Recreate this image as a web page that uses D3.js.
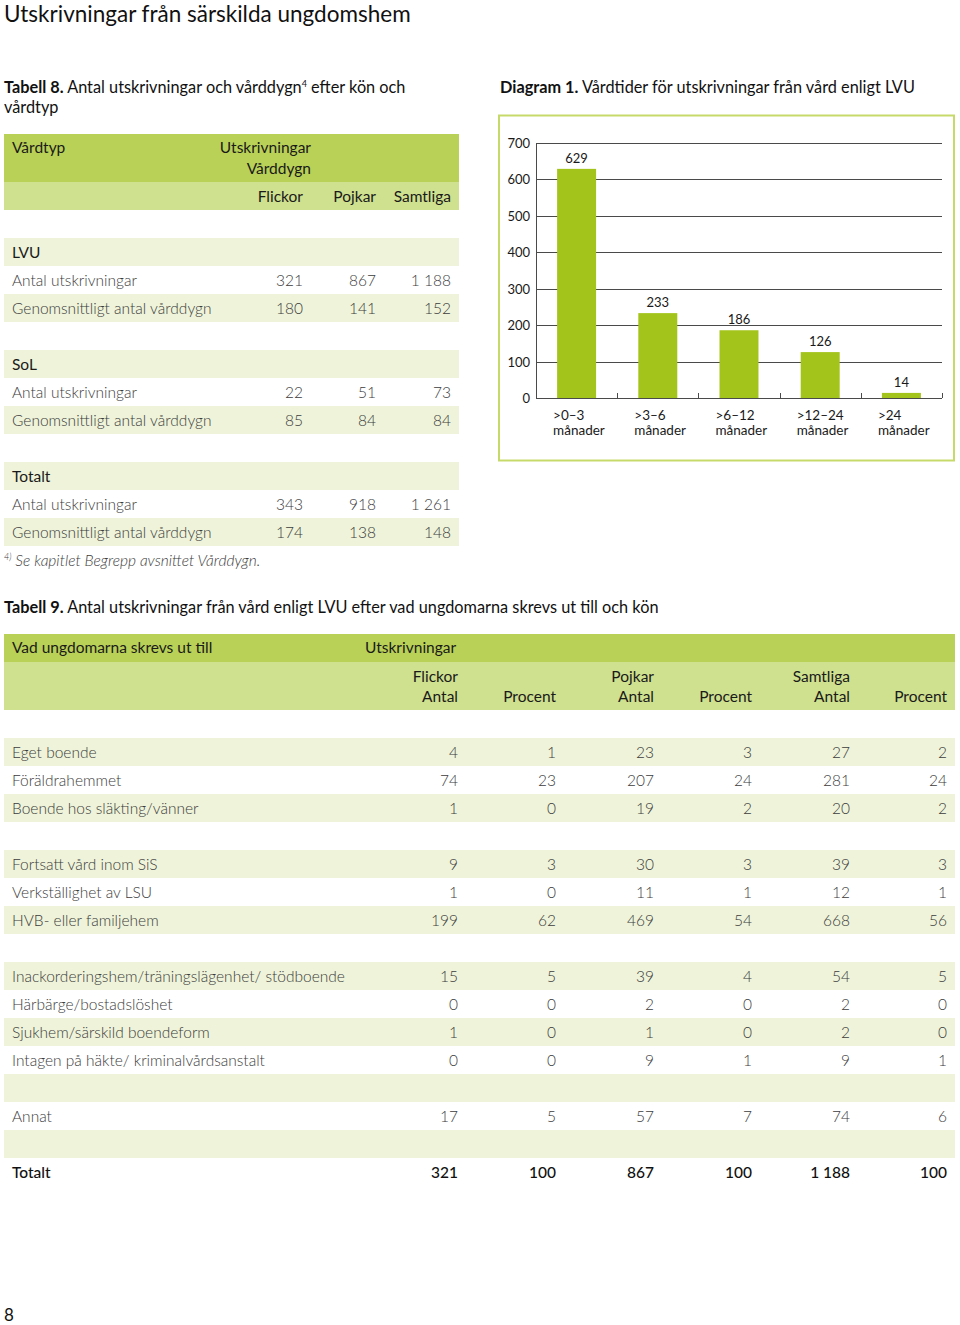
<!DOCTYPE html>
<html><head><meta charset="utf-8">
<script src="https://cdn.jsdelivr.net/npm/d3@7"></script>
<style>body{margin:0;background:#fff}svg{display:block;font-family:Lato,"Open Sans",sans-serif}</style>
</head><body>
<script>
// ---- Diagram 1 data
const categories = [">0–3|månader", ">3–6|månader", ">6–12|månader", ">12–24|månader", ">24|månader"];
const values = [629, 233, 186, 126, 14];
const yTicks = [0, 100, 200, 300, 400, 500, 600, 700];

// ---- Tabell 8 data
const t8Cols = ["Flickor", "Pojkar", "Samtliga"];
const t8Groups = ["LVU", "SoL", "Totalt"];
const t8RowLabels = ["Antal utskrivningar", "Genomsnittligt antal vårddygn"];
const t8LVU = [["321", "867", "1 188"], ["180", "141", "152"]];
const t8SoL = [["22", "51", "73"], ["85", "84", "84"]];
const t8Tot = [["343", "918", "1 261"], ["174", "138", "148"]];

// ---- Tabell 9 data
const t9Labels = ["Eget boende", "Föräldrahemmet", "Boende hos släkting/vänner", null,
  "Fortsatt vård inom SiS", "Verkställighet av LSU", "HVB- eller familjehem", null,
  "Inackorderingshem/träningslägenhet/ stödboende", "Härbärge/bostadslöshet", "Sjukhem/särskild boendeform",
  "Intagen på häkte/ kriminalvårdsanstalt", "", "Annat", "", "Totalt"];
const t9Flickor = [4, 74, 1, null, 9, 1, 199, null, 15, 0, 1, 0, null, 17, null, 321];
const t9FlickorPct = [1, 23, 0, null, 3, 0, 62, null, 5, 0, 0, 0, null, 5, null, 100];
const t9Pojkar = [23, 207, 19, null, 30, 11, 469, null, 39, 2, 1, 9, null, 57, null, 867];
const t9PojkarPct = [3, 24, 2, null, 3, 1, 54, null, 4, 0, 0, 1, null, 7, null, 100];
const t9Samtliga = [27, 281, 20, null, 39, 12, 668, null, 54, 2, 2, 9, null, 74, null, 1188];
const t9SamtligaPct = [2, 24, 2, null, 3, 1, 56, null, 5, 0, 0, 1, null, 6, null, 100];

const DARK = "#b9d156", LIGHT = "#cfe08e", STRIPE = "#eef3d9", TXT = "#3c3c3c";
const CAP = 16.3;

const svg = d3.select("body").append("svg").attr("width", 960).attr("height", 1325);
svg.append("rect").attr("width", 960).attr("height", 1325).attr("fill", "#fff");

// Title
svg.append("text").attr("x", 4).attr("y", 22).attr("font-size", 22.5).attr("fill", "#111")
  .text("Utskrivningar från särskilda ungdomshem");

function caption(x, y, bold, rest) {
  const t = svg.append("text").attr("x", x).attr("y", y).attr("font-size", CAP).attr("fill", "#111");
  t.append("tspan").attr("font-weight", 700).text(bold);
  t.append("tspan").text(rest);
  return t;
}

// ---------- Tabell 8 ----------
{
  const c = svg.append("text").attr("x", 4).attr("y", 93).attr("font-size", CAP).attr("fill", "#111");
  c.append("tspan").attr("font-weight", 700).text("Tabell 8.");
  c.append("tspan").text(" Antal utskrivningar och vårddygn");
  c.append("tspan").attr("font-size", 9).attr("dy", -6).text("4");
  c.append("tspan").attr("dy", 6).text(" efter kön och");
  svg.append("text").attr("x", 4).attr("y", 113).attr("font-size", CAP).attr("fill", "#111").text("vårdtyp");

  const L = 4, R = 459;
  const colX = d3.scaleOrdinal(t8Cols, [303, 376, 451]);
  svg.append("rect").attr("x", L).attr("y", 134).attr("width", R - L).attr("height", 48).attr("fill", DARK);
  svg.append("rect").attr("x", L).attr("y", 182).attr("width", R - L).attr("height", 28).attr("fill", LIGHT);
  svg.append("text").attr("x", 12).attr("y", 153).attr("font-size", 15.5).attr("fill", "#1a1a1a").text("Vårdtyp");
  svg.append("text").attr("x", 311).attr("y", 153).attr("text-anchor", "end").attr("font-size", 15.5).attr("fill", "#1a1a1a").text("Utskrivningar");
  svg.append("text").attr("x", 311).attr("y", 174).attr("text-anchor", "end").attr("font-size", 15.5).attr("fill", "#1a1a1a").text("Vårddygn");
  t8Cols.forEach(cn => svg.append("text").attr("x", colX(cn)).attr("y", 202).attr("text-anchor", "end")
    .attr("font-size", 15.5).attr("fill", "#1a1a1a").text(cn));

  const groupData = [t8LVU, t8SoL, t8Tot];
  t8Groups.forEach((g, gi) => {
    const top = 238 + gi * 112;
    svg.append("rect").attr("x", L).attr("y", top).attr("width", R - L).attr("height", 28).attr("fill", STRIPE);
    svg.append("text").attr("x", 12).attr("y", top + 20).attr("font-size", 15.5).attr("fill", "#1a1a1a").text(g);
    t8RowLabels.forEach((rl, ri) => {
      const ry = top + 28 * (ri + 1);
      if (ri === 1) svg.append("rect").attr("x", L).attr("y", ry).attr("width", R - L).attr("height", 28).attr("fill", STRIPE);
      svg.append("text").attr("x", 12).attr("y", ry + 20).attr("font-size", 15.5).attr("font-weight", 300).attr("fill", TXT).text(rl);
      groupData[gi][ri].forEach((v, ci) => svg.append("text").attr("x", colX(t8Cols[ci])).attr("y", ry + 20)
        .attr("text-anchor", "end").attr("font-size", 15.5).attr("font-weight", 300).attr("fill", TXT).text(v));
    });
  });
  const fn = svg.append("text").attr("x", 4).attr("y", 566).attr("font-size", 15.5).attr("font-style", "italic").attr("font-weight", 300).attr("fill", TXT);
  fn.append("tspan").attr("font-size", 9).attr("dy", -6).text("4)");
  fn.append("tspan").attr("dy", 6).text(" Se kapitlet Begrepp avsnittet Vårddygn.");
}

// ---------- Diagram 1 ----------
{
  caption(500, 93, "Diagram 1.", " Vårdtider för utskrivningar från vård enligt LVU");
  svg.append("rect").attr("x", 499).attr("y", 115.5).attr("width", 455).attr("height", 345)
    .attr("fill", "none").attr("stroke", "#c6da6a").attr("stroke-width", 2);

  const x0 = 536, x1 = 942;
  const x = d3.scaleBand().domain(categories).range([x0, x1]);
  const y = d3.scaleLinear().domain([0, 700]).range([398, 143]);
  const g = svg.append("g");

  g.selectAll("line.grid").data(yTicks).join("line")
    .attr("x1", x0).attr("x2", x1).attr("y1", d => Math.round(y(d)) + 0.5).attr("y2", d => Math.round(y(d)) + 0.5)
    .attr("stroke", "#4a4a4a").attr("stroke-width", 1);
  g.append("line").attr("x1", x0 + 0.5).attr("x2", x0 + 0.5).attr("y1", y(700)).attr("y2", y(0)).attr("stroke", "#4a4a4a");
  // category boundary ticks
  g.selectAll("line.tk").data(categories).join("line")
    .attr("x1", d => Math.round(x(d) + x.bandwidth()) + 0.5).attr("x2", d => Math.round(x(d) + x.bandwidth()) + 0.5)
    .attr("y1", y(0)).attr("y2", y(0) - 5).attr("stroke", "#4a4a4a");

  g.selectAll("text.yt").data(yTicks).join("text")
    .attr("x", 530).attr("y", d => y(d) + 5).attr("text-anchor", "end").attr("font-size", 13).attr("fill", "#1a1a1a").text(d => d);

  const bw = x.bandwidth() * 0.48;
  g.selectAll("rect.bar").data(values).join("rect")
    .attr("x", (d, i) => x(categories[i]) + (x.bandwidth() - bw) / 2)
    .attr("y", d => y(d)).attr("width", bw).attr("height", d => y(0) - y(d)).attr("fill", "#a3c41b");
  g.selectAll("text.val").data(values).join("text")
    .attr("x", (d, i) => x(categories[i]) + x.bandwidth() / 2).attr("y", d => y(d) - 6)
    .attr("text-anchor", "middle").attr("font-size", 13).attr("fill", "#1a1a1a").text(d => d);
  categories.forEach(cat => {
    const [a, b] = cat.split("|");
    const lx = x(cat) + (x.bandwidth() - bw) / 2 - 4;
    const t = g.append("text").attr("font-size", 13.5).attr("fill", "#1a1a1a");
    t.append("tspan").attr("x", lx).attr("y", 420).text(a);
    t.append("tspan").attr("x", lx).attr("y", 435).text(b);
  });
}

// ---------- Tabell 9 ----------
{
  caption(4, 613, "Tabell 9.", " Antal utskrivningar från vård enligt LVU efter vad ungdomarna skrevs ut till och kön");
  const L = 4, R = 955;
  const colRight = [458, 556, 654, 752, 850, 947];
  svg.append("rect").attr("x", L).attr("y", 634).attr("width", R - L).attr("height", 28).attr("fill", DARK);
  svg.append("rect").attr("x", L).attr("y", 662).attr("width", R - L).attr("height", 48).attr("fill", LIGHT);
  const hd = (xx, yy, s, anchor) => svg.append("text").attr("x", xx).attr("y", yy).attr("text-anchor", anchor || "start")
    .attr("font-size", 15.5).attr("fill", "#1a1a1a").text(s);
  hd(12, 653, "Vad ungdomarna skrevs ut till");
  hd(365, 653, "Utskrivningar");
  const grp = ["Flickor", "Pojkar", "Samtliga"];
  grp.forEach((gname, i) => {
    hd(colRight[i * 2], 682, gname, "end");
    hd(colRight[i * 2], 702, "Antal", "end");
    hd(colRight[i * 2 + 1], 702, "Procent", "end");
  });

  const cols = [t9Flickor, t9FlickorPct, t9Pojkar, t9PojkarPct, t9Samtliga, t9SamtligaPct];
  const rowY = d3.scaleLinear().domain([0, 1]).range([738, 766]);
  let stripe = true;
  t9Labels.forEach((lab, i) => {
    const top = rowY(i);
    if (lab === null) { stripe = true; return; }
    if (stripe) svg.append("rect").attr("x", L).attr("y", top).attr("width", R - L).attr("height", 28).attr("fill", STRIPE);
    stripe = !stripe;
    const isTot = lab === "Totalt";
    const fw = isTot ? 500 : 300;
    const fc = isTot ? "#111" : TXT;
    if (lab) svg.append("text").attr("x", 12).attr("y", top + 20).attr("font-size", 15.5).attr("font-weight", fw).attr("fill", fc).text(lab);
    cols.forEach((col, ci) => {
      const v = col[i];
      if (v === null || v === undefined) return;
      svg.append("text").attr("x", colRight[ci]).attr("y", top + 20).attr("text-anchor", "end")
        .attr("font-size", 15.5).attr("font-weight", fw).attr("fill", fc)
        .text(v >= 1000 ? d3.format(",")(v).replace(",", " ") : v);
    });
  });
}

// page number
svg.append("text").attr("x", 4).attr("y", 1321).attr("font-size", 17).attr("fill", "#111").text("8");
</script>
</body></html>
